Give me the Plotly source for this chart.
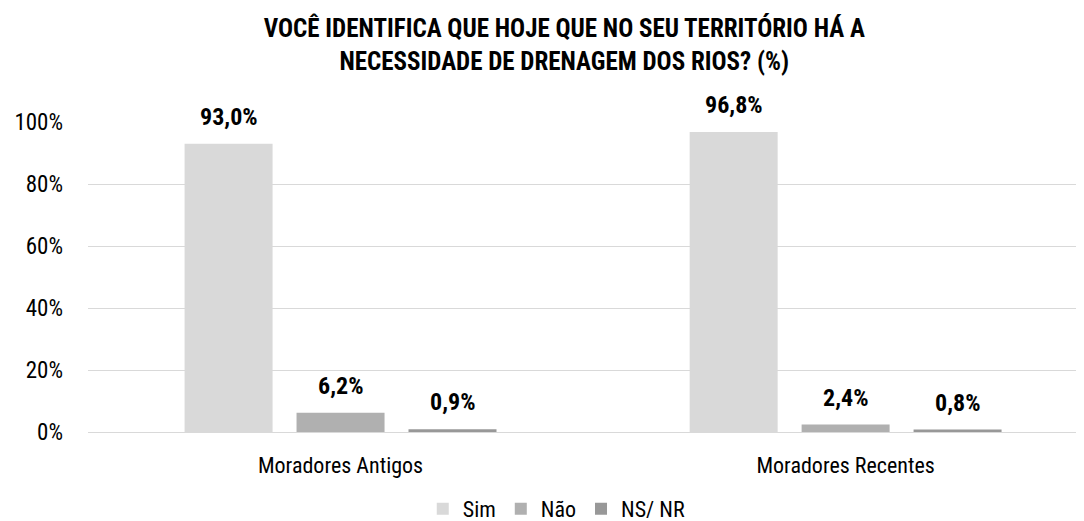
import plotly.graph_objects as go

categories = ["Moradores Antigos", "Moradores Recentes"]
series_names = ["Sim", "Não", "NS/ NR"]
sim = [93.0, 96.8]
nao = [6.2, 2.4]
nsnr = [0.9, 0.8]
labels = [["93,0%", "96,8%"], ["6,2%", "2,4%"], ["0,9%", "0,8%"]]
tick_vals = [0, 20, 40, 60, 80, 100]
tick_text = ["0%", "20%", "40%", "60%", "80%", "100%"]

colors = ["#d9d9d9", "#b0b0b0", "#989898"]
FONT = "Liberation Sans Narrow, Arial Narrow, Roboto Condensed, Liberation Sans, sans-serif"

fig = go.Figure()
data = [sim, nao, nsnr]
for name, vals, col in zip(series_names, data, colors):
    fig.add_trace(go.Bar(x=categories, y=vals, name=name, marker_color=col,
                         marker_line_width=0))

annotations = []
for i, (vals, labs) in enumerate(zip(data, labels)):
    for cat, v, t in zip(categories, vals, labs):
        annotations.append(dict(x=cat, y=v, text="<b>" + t + "</b>", showarrow=False,
                                xref="x", yref="y", xshift=(i - 1) * 112, yshift=27,
                                font=dict(size=24, color="#000", family=FONT)))

fig.update_layout(
    width=1076, height=513,
    margin=dict(l=80, r=1, t=114, b=89, autoexpand=False),
    paper_bgcolor="white", plot_bgcolor="white",
    barmode="group", bargap=0.335, bargroupgap=0.214,
    font=dict(family=FONT, size=22, color="#000"),
    title=dict(text="<b>VOCÊ IDENTIFICA QUE HOJE QUE NO SEU TERRITÓRIO HÁ A<br>NECESSIDADE DE DRENAGEM DOS RIOS? (%)</b>",
               x=0.517, xanchor="center", y=0.943, yanchor="top",
               font=dict(size=25, family=FONT, color="#000")),
    legend=dict(orientation="h", x=0.51, xanchor="center", xref="container",
                y=0.0234, yanchor="middle", yref="container",
                font=dict(size=22, family=FONT), traceorder="normal"),
    annotations=annotations,
)
fig.update_xaxes(range=[-0.5, 1.47], showline=False, ticks="", tickfont=dict(size=22),
                 automargin=False, ticklabelstandoff=18)
fig.update_yaxes(range=[0, 100], tickvals=tick_vals, ticktext=tick_text,
                 showgrid=True, gridcolor="#d9d9d9", gridwidth=1.3, zeroline=True,
                 zerolinecolor="#d9d9d9", zerolinewidth=1.3, tickfont=dict(size=23),
                 ticks="", ticklen=0, automargin=False, ticklabelstandoff=24)
fig.write_html("out.html")
